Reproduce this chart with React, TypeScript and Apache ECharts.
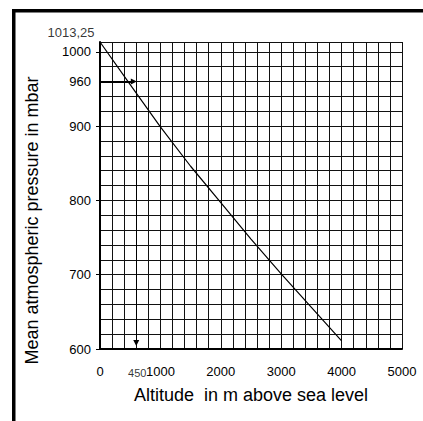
import React, { useEffect, useRef } from 'react';
import * as echarts from 'echarts';

// Curve: altitude (m) -> mean pressure (mbar)
const altitudes = [0, 500, 1000, 1500, 2000, 2500, 3000, 3500, 4000];
const pressures = [1013.25, 956, 899, 846, 797, 748, 701, 656, 611];

// Axis ticks / labels
const xLabelValues = [0, 1000, 2000, 3000, 4000, 5000];
const yLabelValues = [600, 700, 800, 900, 960, 1000];
const yTickValues = [600, 700, 800, 900, 1000];
const xMin = 0;
const xMax = 5000;
const xGridStep = 200;
const yMin = 600;
const yMax = 1013.25;
const yGridStep = 20;

// Reading example (arrows)
const seaLevelLabel = '1013,25';
const readPressure = 960;
const readAltitudeLabel = '450';
const arrowShaftAltitude = 600; // where the vertical arrow is drawn in the picture
const arrowHeadAltitude = 560; // end of the horizontal arrow
const arrowBottomPressure = 608;

const FONT = '"Liberation Sans", Arial, Helvetica, sans-serif';

export default function App() {
  const ref = useRef<HTMLDivElement>(null);

  useEffect(() => {
    document.body.style.margin = '0';
    if (!ref.current) return;
    const chart = echarts.init(ref.current, undefined, { renderer: 'svg' });

    const gridLine = { show: true, lineStyle: { color: '#111', width: 1 } };
    const plain = (v: number) => String(v);

    const option: any = {
      animation: false,
      backgroundColor: '#fff',
      grid: {
        left: 100,
        top: 42,
        right: 21,
        bottom: 72,
        containLabel: false,
        outerBoundsMode: 'none',
      },
      xAxis: {
        type: 'value',
        min: xMin,
        max: xMax,
        interval: xGridStep,
        name: 'Altitude  in m above sea level',
        nameLocation: 'middle',
        nameGap: 37,
        nameTextStyle: { fontFamily: FONT, fontSize: 18, color: '#000' },
        axisLine: { show: true, onZero: false, lineStyle: { color: '#000', width: 2 } },
        axisTick: { show: false },
        axisLabel: {
          customValues: xLabelValues,
          formatter: plain,
          margin: 16,
          fontFamily: FONT,
          fontSize: 13,
          color: '#000',
        },
        splitLine: gridLine,
      },
      yAxis: [
        {
          type: 'value',
          min: yMin,
          max: yMax,
          interval: yGridStep,
          name: 'Mean atmospheric pressure in mbar',
          nameLocation: 'middle',
          nameRotate: 90,
          nameGap: 59,
          nameTextStyle: {
            fontFamily: FONT,
            fontSize: 18,
            color: '#000',
            padding: [0, 50, 0, 0],
          },
          axisLine: { show: true, onZero: false, lineStyle: { color: '#000', width: 2 } },
          axisTick: { show: false },
          axisLabel: { show: false },
          splitLine: gridLine,
        },
        {
          type: 'value',
          min: yMin,
          max: yMax,
          interval: 100,
          position: 'left',
          axisLine: { show: false },
          splitLine: { show: false },
          axisTick: {
            show: true,
            customValues: yTickValues,
            length: 4,
            lineStyle: { color: '#000', width: 1 },
          },
          axisLabel: {
            customValues: yLabelValues,
            formatter: plain,
            margin: 9,
            fontFamily: FONT,
            fontSize: 13,
            color: '#000',
          },
        },
      ],
      series: [
        {
          type: 'line',
          data: altitudes.map((a, i) => [a, pressures[i]]),
          symbol: 'none',
          lineStyle: { color: '#000', width: 1.2 },
          markLine: {
            silent: true,
            symbol: ['none', 'triangle'],
            symbolSize: [6, 6],
            label: { show: false },
            itemStyle: { color: '#000' },
            lineStyle: { color: '#000', width: 2, type: 'solid' },
            data: [
              [
                { coord: [xMin, readPressure], lineStyle: { width: 2, color: '#000', type: 'solid' } },
                { coord: [arrowHeadAltitude, readPressure] },
              ],
              [
                { coord: [arrowShaftAltitude, readPressure], lineStyle: { width: 1, color: '#000', type: 'solid' } },
                { coord: [arrowShaftAltitude, arrowBottomPressure] },
              ],
            ],
          },
        },
        {
          type: 'scatter',
          clip: false,
          silent: true,
          data: [[arrowShaftAltitude, yMin]],
          symbolSize: 1,
          itemStyle: { color: 'rgba(0,0,0,0)' },
          label: {
            show: true,
            formatter: readAltitudeLabel,
            position: 'bottom',
            distance: 18,
            offset: [1, 0],
            fontFamily: FONT,
            fontSize: 11,
            color: '#000',
          },
        },
        {
          type: 'scatter',
          clip: false,
          silent: true,
          data: [[xMin, yMax]],
          symbolSize: 1,
          itemStyle: { color: 'rgba(0,0,0,0)' },
          label: {
            show: true,
            formatter: seaLevelLabel,
            position: 'left',
            distance: 5,
            offset: [0, -10],
            fontFamily: FONT,
            fontSize: 13,
            color: '#000',
          },
        },
      ],
      graphic: [
        { type: 'rect', left: 12, top: 9, shape: { width: 411, height: 3.5 }, style: { fill: '#000' } },
        { type: 'rect', left: 12, top: 9, shape: { width: 3.5, height: 412 }, style: { fill: '#000' } },
      ],
    };

    chart.setOption(option);
    return () => chart.dispose();
  }, []);

  return (
    <div
      ref={ref}
      style={{ position: 'fixed', left: 0, top: 0, width: 423, height: 421, background: '#fff' }}
    />
  );
}
